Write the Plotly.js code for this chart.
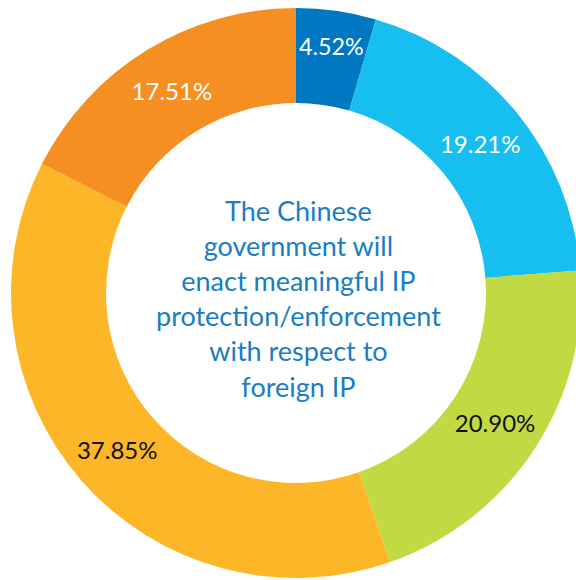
<!DOCTYPE html>
<html>
<head>
<meta charset="utf-8">
<script src="https://cdn.plot.ly/plotly-3.0.1.min.js"></script>
<style>
html, body { margin: 0; padding: 0; overflow: hidden; background: #ffffff; }
#chart { width: 610px; height: 580px; }
</style>
</head>
<body>
<div id="chart"></div>
<script>
const categories = ["Strongly agree", "Agree", "Neutral", "Disagree", "Strongly disagree"];
const shares = [4.52, 19.21, 20.90, 37.85, 17.51];
const sliceColors = ["#0077C1", "#17BFF1", "#C1D942", "#FDB627", "#F58F21"];
const labelColors = ["#ffffff", "#ffffff", "#111111", "#111111", "#ffffff"];
const centerLines = ["The Chinese", "government will", "enact meaningful IP", "protection/enforcement", "with respect to", "foreign IP"];

const W = 610, H = 580;
const cx = 296, cy = 293, R = 285;

const trace = {
  type: "pie",
  labels: categories,
  values: shares,
  sort: false,
  direction: "clockwise",
  rotation: 0,
  hole: 190 / 285,
  marker: { colors: sliceColors, line: { width: 0 } },
  texttemplate: "%{value:.2f}%",
  textposition: "inside",
  insidetextorientation: "horizontal",
  textfont: { family: "Lato, 'Open Sans', sans-serif", size: 24, color: labelColors },
  hoverinfo: "none",
  showlegend: false,
  domain: {
    x: [(cx - R) / W, (cx + R) / W],
    y: [(H - cy - R) / H, (H - cy + R) / H]
  }
};

const layout = {
  width: W,
  height: H,
  margin: { l: 0, r: 0, t: 0, b: 0, pad: 0 },
  paper_bgcolor: "#ffffff",
  showlegend: false,
  annotations: [{
    text: centerLines.join("<br>"),
    x: (cx + 2) / W,
    y: (H - 298) / H,
    xref: "paper",
    yref: "paper",
    xanchor: "center",
    yanchor: "middle",
    showarrow: false,
    align: "center",
    font: { family: "Lato, 'Open Sans', sans-serif", size: 27, color: "#1A7DC4" }
  }]
};

Plotly.newPlot("chart", [trace], layout, { staticPlot: true, displayModeBar: false });
</script>
</body>
</html>
